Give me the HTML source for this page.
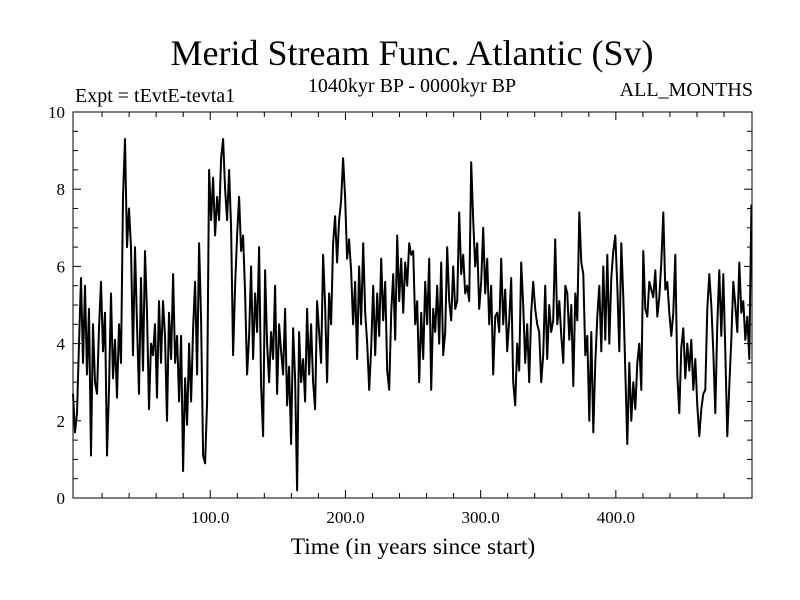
<!DOCTYPE html>
<html><head><meta charset="utf-8"><style>
body{margin:0;background:#fff;}
svg{display:block;font-family:"Liberation Serif",serif;}
</style></head><body>
<svg id="chart" width="800" height="600">
<text x="412" y="65" font-size="36" text-anchor="middle">Merid Stream Func. Atlantic (Sv)</text>
<text x="75" y="102" font-size="20">Expt = tEvtE-tevta1</text>
<text x="412" y="92" font-size="20" text-anchor="middle">1040kyr BP - 0000kyr BP</text>
<text x="753" y="96" font-size="20" text-anchor="end">ALL_MONTHS</text>
<text x="413" y="554" font-size="23.5" text-anchor="middle">Time (in years since start)</text>
<g id="axes"></g>
<path id="series" fill="none" stroke="#000" stroke-width="2" stroke-linejoin="round"/>
<rect x="73" y="112" width="679" height="386" fill="none" stroke="#000" stroke-width="1"/>
</svg>
<script>
const startYear = -1.5;
const yearStep = 1.48;
const values = [
2.7,1.7,2.2,4,5.7,3.5,5.5,3.2,4.9,1.1,4.5,3.0,2.7,4.4,5.6,3.8,4.8,1.1,2.8,5.3,3.1,4.1,2.6,4.5,3.5,7.8,9.3,6.5,7.5,6.5,3.7,6.5,4.5,2.7,
5.7,3.3,6.4,4.8,2.3,4.0,3.7,4.5,2.6,5.1,3.5,5.1,4.2,2.0,4.8,3.6,5.8,3.5,4.2,2.5,4.2,0.7,3.1,1.9,4.0,2.5,4.4,5.6,3.2,6.6,4.6,1.1,0.9,2.5,8.5,
7.2,8.3,6.8,7.8,7.2,8.8,9.3,8.0,7.2,8.5,7.0,3.7,5.5,6.8,7.8,6.4,6.8,5.3,3.2,4.2,6.0,3.6,5.3,4.3,6.5,2.9,1.6,5.9,4.0,3.0,4.3,3.6,5.5,
2.7,4.5,3.8,3.2,4.9,2.4,3.4,1.4,4.4,3.1,0.2,4.3,3.0,3.6,2.5,4.9,3.2,4.5,3.0,2.3,5.1,4.3,3.5,6.3,5.0,3.0,5.3,4.5,6.6,7.3,6.1,7.2,7.7,8.8,7.8,
6.2,6.7,5.9,4.5,5.6,3.6,6.0,4.5,6.6,4.8,4.0,2.8,3.9,5.5,3.7,5.3,4.2,6.2,4.6,5.6,3.3,2.8,4.8,5.8,4.1,6.8,5.1,6.2,4.8,6.1,5.5,6.6,6.3,
6.4,4.5,5.1,3.0,4.8,3.6,5.6,4.5,6.2,2.8,4.9,4.3,5.5,4.0,6.1,3.7,4.3,6.5,5.1,4.6,6.0,4.9,5.1,7.4,5.8,6.3,5.3,5.5,5.1,8.7,7.2,6.0,6.6,4.9,
5.6,7.0,5.3,6.2,4.5,5.5,3.2,4.7,4.8,4.3,6.2,4.5,5.4,3.8,4.6,5.7,3.0,2.4,4.0,3.3,6.1,5.0,3.5,4.5,3.0,4.8,5.6,4.9,4.5,4.3,3.0,3.7,5.5,
3.6,5.0,4.3,4.6,6.7,4.5,5.1,4.2,3.5,5.5,5.3,4.1,5.0,2.9,5.3,4.6,7.4,6.1,5.8,3.7,4.2,2.0,4.3,1.7,3.5,4.7,5.5,3.8,6.0,4.1,6.3,4.0,5.7,6.4,
6.8,5.5,3.8,6.6,5.2,3.3,1.4,3.5,2.0,3.0,2.3,3.5,4.0,2.8,6.4,4.9,4.7,5.6,5.4,5.2,5.9,4.7,5.2,6.1,7.4,5.4,5.6,4.8,4.2,4.8,6.3,3.2,2.2,3.9,
4.4,3.1,4.0,3.3,4.1,2.8,3.6,2.4,1.6,2.3,2.7,2.8,4.9,5.8,5.0,3.8,2.2,4.5,5.9,4.2,5.8,3.8,1.6,2.9,4.1,5.6,5.0,4.3,6.1,4.8,5.1,4.1,4.7,3.6,7.6
];
const yTicks = [0,2,4,6,8,10];
const xTicks = [100,200,300,400];
const xLabels = ["100.0","200.0","300.0","400.0"];

const L=73,R=752,T=112,B=498;
const xMin=-1.5,xMax=500.7,yMin=0,yMax=10;
const sx=v=>L+(v-xMin)/(xMax-xMin)*(R-L);
const sy=v=>B-(v-yMin)/(yMax-yMin)*(B-T);
const NS="http://www.w3.org/2000/svg";
const axes=document.getElementById('axes');
function mk(tag,attrs){const e=document.createElementNS(NS,tag);for(const k in attrs)e.setAttribute(k,attrs[k]);axes.appendChild(e);return e;}
for(let v=0;v<=10.001;v+=0.5){
  const major=Math.abs(v-Math.round(v/2)*2)<1e-6;const len=major?8:5;
  const a=mk('line',{x1:L,x2:L+len,y1:sy(v),y2:sy(v),stroke:'#000'});
  
  
  const b=mk('line',{x1:R,x2:R-len,y1:sy(v),y2:sy(v),stroke:'#000'});
  
  
}
yTicks.forEach(v=>{
  const t=mk('text',{x:L-8,y:sy(v)+6,'font-size':17,'text-anchor':'end'});
  t.textContent=v;
  
  
});
for(let v=20;v<500;v+=20){
  const major=v%100===0;const len=major?8:5;
  const a=mk('line',{x1:sx(v),x2:sx(v),y1:B,y2:B-len,stroke:'#000'});
  
  
  const b=mk('line',{x1:sx(v),x2:sx(v),y1:T,y2:T+len,stroke:'#000'});
  
  
}
xTicks.forEach((v,i)=>{
  const t=mk('text',{x:sx(v),y:B+25,'font-size':17,'text-anchor':'middle'});
  t.textContent=xLabels[i];
  
  
});
let d='';
values.forEach((v,i)=>{const yr=startYear+i*yearStep;d+=(i?'L':'M')+sx(yr).toFixed(1)+','+sy(v).toFixed(1);});
document.getElementById('series').setAttribute('d',d);
</script>
</body></html>
